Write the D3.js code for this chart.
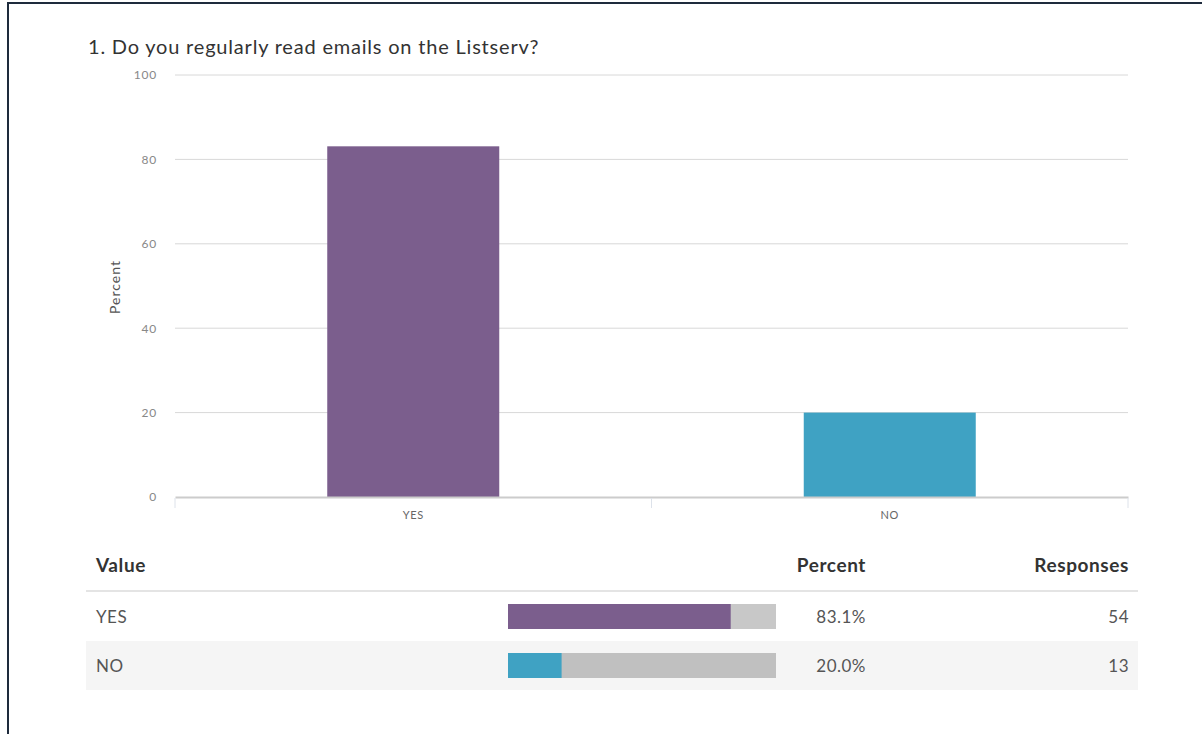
<!DOCTYPE html>
<html>
<head>
<meta charset="utf-8">
<script src="https://cdn.jsdelivr.net/npm/d3@7"></script>
<style>
  body { margin: 0; background: #fff; }
  svg { display: block; font-family: Lato, "Open Sans", sans-serif; }
</style>
</head>
<body>
<svg id="mainsvg" width="1202" height="734"></svg>
<script>
// chart data
var categories = ["YES", "NO"];
var percents = [83.1, 20.0];
var responses = [54, 13];
var colors = ["#7b5e8d", "#3fa2c3"];
var yTicks = [0, 20, 40, 60, 80, 100];
var title = "1. Do you regularly read emails on the Listserv?";

var svg = d3.select("#mainsvg");

// frame
svg.append("rect")
    .attr("x", 8).attr("y", 3)
    .attr("width", 1202).attr("height", 740)
    .attr("fill", "none")
    .attr("stroke", "#1e2b3c")
    .attr("stroke-width", 2);

svg.append("text")
    .attr("x", 88).attr("y", 54)
    .style("font-size", "20px")
    .style("letter-spacing", "0.8px")
    .style("fill", "#333")
    .text(title);

var x = d3.scaleBand().domain(categories).range([175, 1128]).paddingInner(0).paddingOuter(0);
var y = d3.scaleLinear().domain([0, 100]).range([497, 75]);

// grid
svg.append("g").selectAll("line")
    .data(yTicks.filter(function(d){ return d > 0; }))
    .enter().append("line")
    .attr("x1", 175).attr("x2", 1128)
    .attr("y1", function(d){ return y(d); })
    .attr("y2", function(d){ return y(d); })
    .attr("stroke", "#d8d8d8")
    .attr("stroke-width", 1);

var yAxis = svg.append("g")
    .attr("transform", "translate(175,0)")
    .call(d3.axisLeft(y).tickValues(yTicks).tickSize(0).tickPadding(18));
yAxis.select(".domain").remove();
yAxis.selectAll("text")
    .style("font-size", "12px")
    .style("letter-spacing", "0.8px")
    .style("fill", "#888")
    .style("font-family", "Lato, sans-serif");

svg.append("text")
    .attr("transform", "translate(120,287) rotate(-90)")
    .attr("text-anchor", "middle")
    .style("font-size", "14px")
    .style("letter-spacing", "1px")
    .style("fill", "#555")
    .text("Percent");

// bars
var bw = 172;
svg.append("g").selectAll("rect")
    .data(categories)
    .enter().append("rect")
    .attr("x", function(d){ return x(d) + x.bandwidth() / 2 - bw / 2; })
    .attr("y", function(d, i){ return y(percents[i]); })
    .attr("width", bw)
    .attr("height", function(d, i){ return y(0) - y(percents[i]); })
    .attr("fill", function(d, i){ return colors[i]; });

// x axis
var xAxis = svg.append("g")
    .attr("transform", "translate(0,497)")
    .call(d3.axisBottom(x).tickSize(0).tickPadding(14));
xAxis.select(".domain")
    .attr("stroke", "#ccc")
    .attr("stroke-width", 2);
xAxis.selectAll("text")
    .style("font-size", "11px")
    .style("letter-spacing", "0.6px")
    .style("fill", "#666")
    .style("font-family", "Lato, sans-serif");
var bounds = [175].concat(categories.map(function(d){ return x(d) + x.bandwidth(); }));
svg.append("g").selectAll("line")
    .data(bounds).enter().append("line")
    .attr("x1", function(d){ return d; }).attr("x2", function(d){ return d; })
    .attr("y1", 498).attr("y2", 508)
    .attr("stroke", "#dde2ea");

// table
var tbl = svg.append("g");
function header(xp, anchor, label){
    tbl.append("text").attr("x", xp).attr("y", 572).attr("text-anchor", anchor)
        .style("font-size", "19px").style("font-weight", "bold")
        .style("letter-spacing", "0.6px").style("fill", "#333").text(label);
}
header(96, "start", "Value");
header(866, "end", "Percent");
header(1129, "end", "Responses");
tbl.append("line").attr("x1", 86).attr("x2", 1138).attr("y1", 591).attr("y2", 591)
    .attr("stroke", "#e4e4e4").attr("stroke-width", 2);

var bx = d3.scaleLinear().domain([0, 100]).range([508, 776]);
var rows = tbl.selectAll("g.row")
    .data(categories).enter().append("g")
    .attr("transform", function(d, i){ return "translate(0," + (592 + i * 49) + ")"; });
rows.append("rect")
    .attr("x", 86).attr("width", 1052).attr("height", 49)
    .attr("fill", function(d, i){ return i % 2 ? "#f5f5f5" : "#fff"; });
function cell(sel, xp, anchor){
    return sel.append("text").attr("x", xp).attr("y", 31).attr("text-anchor", anchor)
        .style("font-size", "17px").style("letter-spacing", "0.5px").style("fill", "#555");
}
cell(rows, 96, "start").text(function(d){ return d; });
rows.append("rect")
    .attr("x", bx(0)).attr("y", 12).attr("height", 25)
    .attr("width", bx(100) - bx(0))
    .attr("fill", function(d, i){ return i % 2 ? "#c0c0c0" : "#c8c8c8"; });
rows.append("rect")
    .attr("x", bx(0)).attr("y", 12).attr("height", 25)
    .attr("width", function(d, i){ return bx(percents[i]) - bx(0); })
    .attr("fill", function(d, i){ return colors[i]; });
cell(rows, 866, "end").text(function(d, i){ return percents[i].toFixed(1) + "%"; });
cell(rows, 1129, "end").text(function(d, i){ return responses[i]; });
</script>
</body>
</html>
